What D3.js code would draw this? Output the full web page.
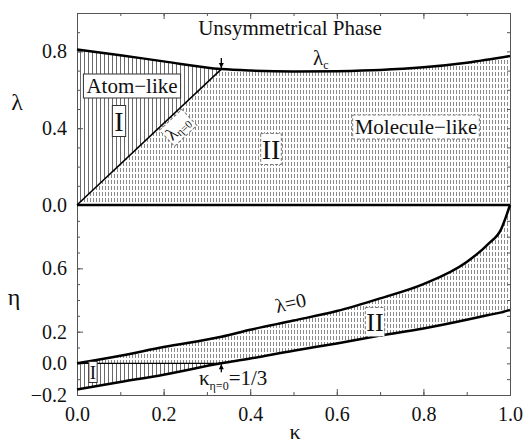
<!DOCTYPE html>
<html>
<head>
<meta charset="utf-8">
<script src="https://cdn.jsdelivr.net/npm/d3@7"></script>
<style>
  body { margin: 0; background: #fff; }
  svg, svg text { font-family: "Liberation Serif", "DejaVu Serif", "Times New Roman", serif !important; fill: #111; }
</style>
</head>
<body>
<div id="chart"></div>
<script>
// Top panel: critical coupling lambda_c versus kappa
const kappaTop = [0, 0.1, 0.2, 1 / 3, 0.4, 0.5, 0.6, 0.7, 0.8, 0.9, 1.0];
const lambdaC = [0.81, 0.78, 0.748, 0.708, 0.700, 0.695, 0.697, 0.703, 0.717, 0.741, 0.776];
const kappaCross = 1 / 3;           // where eta = 0
const lambdaCross = 0.708;          // lambda_{eta=0} meets lambda_c here

// Bottom panel: eta boundaries versus kappa
const kappaBot = [0, 0.1, 0.2, 1 / 3, 0.4, 0.5, 0.6, 0.7, 0.8, 0.9, 0.95, 0.98, 0.99, 1.0];
const etaUpper = [0, 0.048, 0.103, 0.168, 0.212, 0.27, 0.33, 0.41, 0.5, 0.64, 0.755, 0.85, 0.92, 1.0];
const etaLower = [-0.165, -0.118, -0.072, 0, 0.03, 0.08, 0.125, 0.175, 0.22, 0.275, 0.305, 0.322, 0.33, 0.337];

const xTicks = [0, 0.2, 0.4, 0.6, 0.8, 1.0];
const lambdaTicks = [0, 0.4, 0.8];
const etaTicks = [-0.2, 0, 0.2, 0.6];

const FONT = "'Liberation Serif', 'DejaVu Serif', serif";
const W = 524, H = 447;
const svg = d3.select("#chart").append("svg")
    .attr("width", W).attr("height", H)
    .attr("font-family", FONT);

const x = d3.scaleLinear().domain([0, 1]).range([77, 510]);
const yTop = d3.scaleLinear().domain([0, 1]).range([205, 13]);
const yBot = d3.scaleLinear().domain([-0.2, 1]).range([395, 205]);

// hatch patterns
const defs = svg.append("defs");
const patI = defs.append("pattern").attr("id", "hatchI")
    .attr("patternUnits", "userSpaceOnUse").attr("width", 4).attr("height", 4);
patI.append("rect").attr("width", 4).attr("height", 4).attr("fill", "#fff");
patI.append("line").attr("x1", 0.5).attr("x2", 0.5).attr("y1", 0).attr("y2", 4)
    .attr("stroke", "#6a6a6a").attr("stroke-width", 1);

const patII = defs.append("pattern").attr("id", "hatchII")
    .attr("patternUnits", "userSpaceOnUse").attr("width", 3).attr("height", 6);
patII.append("rect").attr("width", 3).attr("height", 6).attr("fill", "#fff");
patII.append("line").attr("x1", 0.5).attr("x2", 0.5).attr("y1", 0).attr("y2", 4)
    .attr("stroke", "#8a8a8a").attr("stroke-width", 1);

// clip: region I in top panel (above the lambda_{eta=0} line, left of 1/3)
defs.append("clipPath").attr("id", "clipTopI").append("path")
    .attr("d", `M${x(0)},${yTop(0)} L${x(kappaCross)},${yTop(lambdaCross)} L${x(kappaCross)},${yTop(1)} L${x(0)},${yTop(1)} Z`);
// clip: region I in bottom panel (eta < 0)
defs.append("clipPath").attr("id", "clipBotI").append("rect")
    .attr("x", x(0)).attr("y", yBot(0)).attr("width", x(kappaCross) - x(0)).attr("height", yBot(-0.2) - yBot(0));

const topData = kappaTop.map((k, i) => ({k, l: lambdaC[i]}));
const botData = kappaBot.map((k, i) => ({k, u: etaUpper[i], lo: etaLower[i]}));

const areaTop = d3.area().curve(d3.curveMonotoneX)
    .x(d => x(d.k)).y0(yTop(0)).y1(d => yTop(d.l));
const lineTop = d3.line().curve(d3.curveMonotoneX)
    .x(d => x(d.k)).y(d => yTop(d.l));
const areaBot = d3.area().curve(d3.curveMonotoneX)
    .x(d => x(d.k)).y0(d => yBot(d.lo)).y1(d => yBot(d.u));
const lineUp = d3.line().curve(d3.curveMonotoneX)
    .x(d => x(d.k)).y(d => yBot(d.u));
const lineLo = d3.line().curve(d3.curveMonotoneX)
    .x(d => x(d.k)).y(d => yBot(d.lo));

// region fills
svg.append("path").datum(topData).attr("d", areaTop).attr("fill", "url(#hatchII)");
svg.append("path").datum(topData).attr("d", areaTop).attr("fill", "url(#hatchI)")
    .attr("clip-path", "url(#clipTopI)");
svg.append("path").datum(botData).attr("d", areaBot).attr("fill", "url(#hatchII)");
svg.append("path").datum(botData).attr("d", areaBot).attr("fill", "url(#hatchI)")
    .attr("clip-path", "url(#clipBotI)");

// axes (ticks inward)
const axisStyle = g => {
  g.attr("font-family", FONT).attr("font-size", 20);
  g.selectAll(".domain").attr("stroke", "#555").attr("stroke-width", 1);
  g.selectAll(".tick line").attr("stroke", "#555");
  g.selectAll("text").attr("font-size", 20).attr("font-family", FONT).attr("fill", "#111");
};
const minor = d3.range(0, 1.001, 0.1);

svg.append("g").attr("transform", `translate(0,${yBot(-0.2)})`)
    .call(d3.axisBottom(x).tickValues(minor).tickSize(-3).tickFormat(""))
    .call(axisStyle);
svg.append("g").attr("transform", `translate(0,${yBot(-0.2)})`)
    .call(d3.axisBottom(x).tickValues(xTicks).tickSize(-6).tickPadding(12).tickFormat(d3.format(".1f")))
    .call(axisStyle);
svg.append("g").attr("transform", `translate(0,${yTop(1)})`)
    .call(d3.axisTop(x).tickValues(minor).tickSize(-3).tickFormat(""))
    .call(axisStyle);
svg.append("g").attr("transform", `translate(0,${yTop(1)})`)
    .call(d3.axisTop(x).tickValues(xTicks).tickSize(-6).tickFormat(""))
    .call(axisStyle);

// left/right, top panel
svg.append("g").attr("transform", `translate(${x(0)},0)`)
    .call(d3.axisLeft(yTop).tickValues(minor).tickSize(-3).tickFormat(""))
    .call(axisStyle);
svg.append("g").attr("transform", `translate(${x(0)},0)`)
    .call(d3.axisLeft(yTop).tickValues(lambdaTicks).tickSize(-6).tickPadding(10).tickFormat(d3.format(".1f")))
    .call(axisStyle);
svg.append("g").attr("transform", `translate(${x(1)},0)`)
    .call(d3.axisRight(yTop).tickValues(minor).tickSize(-3).tickFormat(""))
    .call(axisStyle);

// left/right, bottom panel
const minorEta = d3.range(-0.2, 1.001, 0.1).map(v => +v.toFixed(1));
svg.append("g").attr("transform", `translate(${x(0)},0)`)
    .call(d3.axisLeft(yBot).tickValues(minorEta).tickSize(-3).tickFormat(""))
    .call(axisStyle);
svg.append("g").attr("transform", `translate(${x(0)},0)`)
    .call(d3.axisLeft(yBot).tickValues(etaTicks).tickSize(-6).tickPadding(10)
      .tickFormat(d => d < 0 ? "\u2212" + d3.format(".1f")(-d) : d3.format(".1f")(d)))
    .call(axisStyle);
svg.append("g").attr("transform", `translate(${x(1)},0)`)
    .call(d3.axisRight(yBot).tickValues(minorEta).tickSize(-3).tickFormat(""))
    .call(axisStyle);

// curves
svg.append("path").datum(topData).attr("d", lineTop)
    .attr("fill", "none").attr("stroke", "#000").attr("stroke-width", 2.5);
svg.append("line").attr("x1", x(0)).attr("y1", yTop(0)).attr("x2", x(kappaCross)).attr("y2", yTop(lambdaCross))
    .attr("stroke", "#000").attr("stroke-width", 1.6);
svg.append("line").attr("x1", x(0)).attr("y1", yTop(0)).attr("x2", x(1)).attr("y2", yTop(0))
    .attr("stroke", "#000").attr("stroke-width", 2.5);
svg.append("path").datum(botData).attr("d", lineUp)
    .attr("fill", "none").attr("stroke", "#000").attr("stroke-width", 2.5);
svg.append("path").datum(botData).attr("d", lineLo)
    .attr("fill", "none").attr("stroke", "#000").attr("stroke-width", 2.5);
svg.append("line").attr("x1", x(0)).attr("y1", yBot(0)).attr("x2", x(kappaCross)).attr("y2", yBot(0))
    .attr("stroke", "#000").attr("stroke-width", 1.2);

// arrows
function arrow(x0, yFrom, yTo) {
  const dir = yTo > yFrom ? 1 : -1;
  svg.append("line").attr("x1", x0).attr("x2", x0).attr("y1", yFrom).attr("y2", yTo)
      .attr("stroke", "#000").attr("stroke-width", 1.3);
  svg.append("path")
      .attr("d", `M${x0 - 2.5},${yTo - dir * 5} L${x0},${yTo} L${x0 + 2.5},${yTo - dir * 5} Z`)
      .attr("fill", "#000");
}
arrow(x(kappaCross), yTop(lambdaCross) - 11, yTop(lambdaCross) - 1);
arrow(x(kappaCross), yBot(0) + 9, yBot(0) + 1);

// labels
function boxedText(txt, cx, cy, size, dashed, opts = {}) {
  const g = svg.append("g").attr("transform", `translate(${cx},${cy}) rotate(${opts.rot || 0})`);
  const t = g.append("text").attr("text-anchor", "middle").attr("dominant-baseline", "central")
      .attr("font-size", size).attr("font-family", FONT);
  if (typeof txt === "string") t.text(txt); else txt(t);
  const bb = t.node().getBBox();
  const px = opts.padX ?? 3, py = opts.padY ?? 1;
  g.insert("rect", "text")
      .attr("x", bb.x - px).attr("y", bb.y - py)
      .attr("width", bb.width + 2 * px).attr("height", bb.height + 2 * py)
      .attr("fill", "#fff").attr("stroke", dashed ? "#777" : "#333")
      .attr("stroke-width", 1).attr("stroke-dasharray", dashed ? "3,2" : null);
  return g;
}

svg.append("text").attr("x", 290).attr("y", 35).attr("text-anchor", "middle")
    .attr("font-size", 21).text("Unsymmetrical Phase");
const lc = svg.append("text").attr("x", 313).attr("y", 65).attr("font-size", 21);
lc.append("tspan").text("\u03bb");
lc.append("tspan").attr("font-size", 12).attr("dy", 4).text("c");

boxedText("Atom\u2212like", 132, 86, 21, false, {padX: 3, padY: 0});
boxedText("I", 119, 121, 28, false, {padX: 2, padY: 0});
boxedText(t => {
  t.append("tspan").text("\u03bb");
  t.append("tspan").attr("font-size", 11).attr("dy", 4).text("\u03b7=0");
}, 178, 128, 18, true, {rot: -43, padX: 2, padY: 1});
boxedText("II", 271, 149, 28, true, {padX: 1, padY: 0});
boxedText("Molecule\u2212like", 416, 127, 21, true, {padX: 2, padY: 0});

boxedText("I", 93, 372, 19, false, {padX: 1, padY: 0});
boxedText("II", 375, 322, 26, true, {padX: 1, padY: 0});

const l0 = svg.append("text").attr("font-size", 20)
    .attr("transform", "translate(277,313) rotate(-13)");
l0.text("\u03bb=0");

const kl = svg.append("text").attr("x", 199).attr("y", 385).attr("font-size", 21);
kl.append("tspan").text("\u03ba");
kl.append("tspan").attr("font-size", 12).attr("dy", 5).text("\u03b7=0");
kl.append("tspan").attr("dy", -5).text("=1/3");

// axis titles
svg.append("text").attr("x", 17).attr("y", 110).attr("text-anchor", "middle")
    .attr("font-size", 24).text("\u03bb");
svg.append("text").attr("x", 14).attr("y", 305).attr("text-anchor", "middle")
    .attr("font-size", 24).text("\u03b7");
svg.append("text").attr("x", 295).attr("y", 439).attr("text-anchor", "middle")
    .attr("font-size", 22).text("\u03ba");
</script>
</body>
</html>
